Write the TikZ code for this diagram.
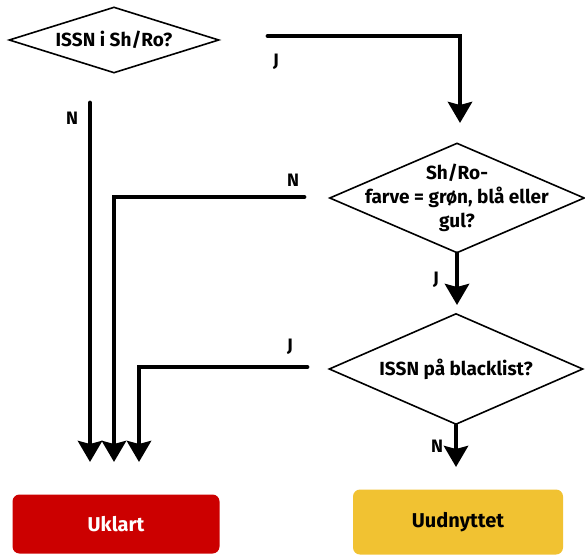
\documentclass[tikz,border=0pt]{standalone}
\usepackage{fontspec}
\setmainfont{Fira Sans}
\usetikzlibrary{shapes.geometric,arrows.meta}
\definecolor{uklartred}{RGB}{204,0,0}
\definecolor{uudnyttetgold}{RGB}{241,194,50}

\begin{document}
\begin{tikzpicture}[x=1pt, y=-1pt,
  question/.style={diamond, draw, line width=1.6pt, inner sep=0pt},
  qtext/.style={align=center, inner sep=0pt, font=\fontsize{19}{24}\selectfont\bfseries},
  outcome/.style={rectangle, rounded corners=7pt, inner sep=0pt, font=\fontsize{20}{24}\selectfont\bfseries},
  flow/.style={line width=4.8pt, line cap=round, -{Stealth[length=21pt, width=24pt, inset=3pt]}},
  answer/.style={font=\fontsize{18}{20}\selectfont\bfseries}]

  \useasboundingbox (0,0) rectangle (585,556);

  % Nodes
  \draw (114,40)  node(Q1) [question, minimum width=210, minimum height=66]  {};
  \draw (457,198) node(Q2) [question, minimum width=255, minimum height=110] {};
  \draw (456,369) node(Q3) [question, minimum width=254, minimum height=111] {};
  \draw (Q1) node(Q1text) [qtext] {ISSN i Sh/Ro?};
  \draw (Q2) node(Q2text) [qtext] {Sh/Ro-\\farve = grøn, blå eller\\gul?};
  \draw (Q3) node(Q3text) [qtext] {ISSN på blacklist?};

  \draw (116,524) node(uklart)    [outcome, fill=uklartred, text=white, minimum width=207, minimum height=59] {Uklart};
  \draw (458,522) node(uudnyttet) [outcome, fill=uudnyttetgold, minimum width=210, minimum height=65] {Uudnyttet};

  % Free ends
  \coordinate (J1a) at (268,36);
  \coordinate (J1b) at (460,123);
  \coordinate (N1a) at (90,103);
  \coordinate (N1b) at (90,462);
  \coordinate (N2a) at (304,197);
  \coordinate (N2b) at (114,462);
  \coordinate (J2b) at (457,305);
  \coordinate (J3a) at (307,367);
  \coordinate (J3b) at (139,462);
  \coordinate (N3b) at (456,467);

  % Edges
  \draw[flow] (J1a) -| (J1b);
  \draw[flow] (N1a) -- (N1b);
  \draw[flow] (N2a) -| (N2b);
  \draw[flow] (Q2.south) -- (J2b);
  \draw[flow] (J3a) -| (J3b);
  \draw[flow] (Q3.south) -- (N3b);

  % Answers
  \draw (276,62)  node(aJ1) [answer] {J};
  \draw (72,118)  node(aN1) [answer] {N};
  \draw (293,180) node(aN2) [answer] {N};
  \draw (436,280) node(aJ2) [answer] {J};
  \draw (290,347) node(aJ3) [answer] {J};
  \draw (437,446) node(aN3) [answer] {N};
\end{tikzpicture}
\end{document}
